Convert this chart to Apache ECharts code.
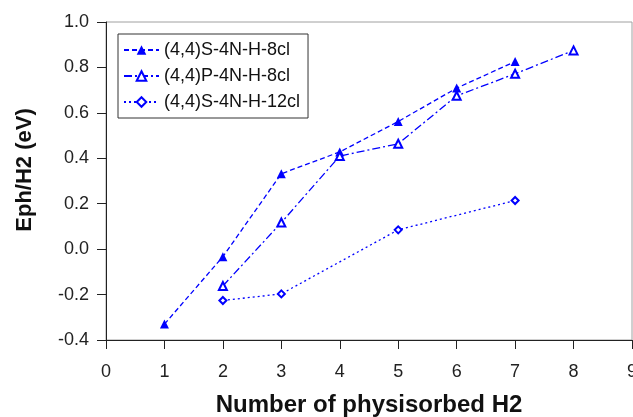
<!DOCTYPE html>
<html><head><meta charset="utf-8">
<script src="https://cdn.jsdelivr.net/npm/echarts@6/dist/echarts.min.js"></script>
<style>html,body{margin:0;padding:0;background:#fff}#c{width:633px;height:417px}</style>
</head><body><div id="c"></div>
<script>
const xTicks = [0,1,2,3,4,5,6,7,8,9];
const yTicks = [-0.4,-0.2,0.0,0.2,0.4,0.6,0.8,1.0];
const seriesNames = ['(4,4)S-4N-H-8cl','(4,4)P-4N-H-8cl','(4,4)S-4N-H-12cl'];
const xS8 = [1,2,3,4,5,6,7];
const yS8 = [-0.33,-0.033,0.332,0.428,0.562,0.709,0.826];
const xP8 = [2,3,4,5,6,7,8];
const yP8 = [-0.162,0.117,0.41,0.464,0.675,0.772,0.875];
const xS12 = [2,3,5,7];
const yS12 = [-0.226,-0.197,0.085,0.214];
const xTitle = 'Number of physisorbed H2';
const yTitle = 'Eph/H2 (eV)';

const blue = '#0000ff';
const font = '"Liberation Sans", Arial, sans-serif';
function pairs(xs, ys){ return xs.map((x,i)=>[x, ys[i]]); }

const chart = echarts.init(document.getElementById('c'), null, {renderer:'canvas'});
chart.setOption({
  animation:false,
  backgroundColor:'#fff',
  grid:{left:106,right:1,top:22,bottom:77,show:true,borderColor:'#a0a0a0',borderWidth:1,backgroundColor:'transparent',
        containLabel:false, outerBoundsMode:'none'},
  legend:{
    orient:'vertical', left:118, top:34, selectedMode:false,
    backgroundColor:'#fff', borderColor:'#333', borderWidth:1,
    padding:[7,8,7,5], itemGap:8, itemWidth:35, itemHeight:12,
    textStyle:{fontFamily:font,fontSize:18,color:'#111'},
    data:seriesNames
  },
  xAxis:{
    type:'value', min:xTicks[0], max:xTicks[xTicks.length-1], interval:1,
    name:xTitle, nameLocation:'middle', nameGap:53,
    nameTextStyle:{fontFamily:font,fontSize:24,fontWeight:'bold',color:'#111'},
    axisLine:{onZero:false,lineStyle:{color:'#222',width:1}},
    axisTick:{show:true,length:9,lineStyle:{color:'#222'}},
    axisLabel:{fontFamily:font,fontSize:18,color:'#222',margin:23},
    splitLine:{show:false}
  },
  yAxis:{
    type:'value', min:yTicks[0], max:yTicks[yTicks.length-1], interval:0.2,
    axisLine:{show:true,onZero:false,lineStyle:{color:'#222',width:1}},
    axisTick:{show:true,length:9,lineStyle:{color:'#222'}},
    axisLabel:{fontFamily:font,fontSize:18,color:'#222',margin:17,formatter:v=>v.toFixed(1)},
    splitLine:{show:false}
  },
  graphic:[{
    type:'text', x:25, y:170, rotation:Math.PI/2,
    style:{text:yTitle, fontFamily:font, fontSize:22, fontWeight:'bold', fill:'#111', align:'center', verticalAlign:'middle'}
  }],
  series:[
    {name:seriesNames[0], type:'line', data:pairs(xS8,yS8), symbol:'triangle', symbolSize:9,
     itemStyle:{color:blue}, lineStyle:{color:blue,width:1.3,type:[5,3]}},
    {name:seriesNames[1], type:'line', data:pairs(xP8,yP8), symbol:'emptyTriangle', symbolSize:8,
     itemStyle:{color:blue,borderWidth:1.1}, lineStyle:{color:blue,width:1.3,type:[8,3,2,3]}},
    {name:seriesNames[2], type:'line', data:pairs(xS12,yS12), symbol:'emptyDiamond', symbolSize:7,
     itemStyle:{color:blue,borderWidth:1.1}, lineStyle:{color:blue,width:1.3,type:[2,3]}}
  ]
});
</script></body></html>
